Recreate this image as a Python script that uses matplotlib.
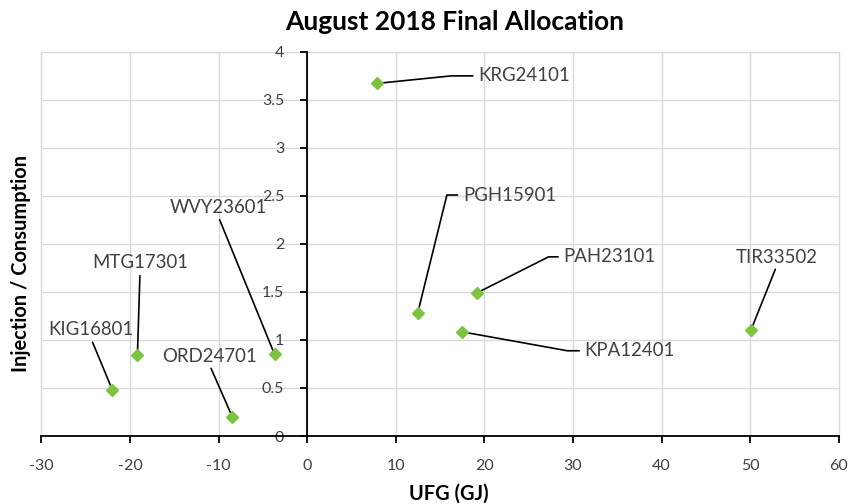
import numpy as np
import matplotlib
matplotlib.use('Agg')
import matplotlib.pyplot as plt

# Data
names = ['KRG24101', 'PGH15901', 'PAH23101', 'KPA12401', 'TIR33502',
         'WVY23601', 'MTG17301', 'KIG16801', 'ORD24701']
ufg = [7.93, 12.47, 19.17, 17.44, 50.08, -3.69, -19.17, -22.0, -8.46]
ratio = [3.67, 1.28, 1.49, 1.085, 1.10, 0.85, 0.84, 0.48, 0.20]

# Label placement: offset in pixels from the point, and elbow angle
# (None = straight leader from below the centred label)
label_offsets = [(101, 7.5), (45.4, 118), (86.6, 36), (123, -19), (26, 73.3),
                 (-56.5, 147), (2.6, 92.3), (-21.4, 60), (-22.9, 60.7)]
elbow_angles = [5.8, 76.1, 26.7, -10.2, None, None, None, None, None]

C_GREEN = '#7DC242'
C_GRID = '#D9D9D9'
C_TEXT = '#404040'

plt.rcParams['font.family'] = 'Lato'
plt.rcParams['axes.unicode_minus'] = False

fig = plt.figure(figsize=(8.52, 5.04), dpi=100)
ax = fig.add_axes([0.0487, 0.1349, 0.9357, 0.7626])

ax.plot(ufg, ratio, linestyle='none', marker='D', markersize=6,
        color=C_GREEN, zorder=4, clip_on=False)

ax.set_xlim(-30, 60)
ax.set_ylim(0, 4)
ax.set_xticks(np.arange(-30, 61, 10))
ax.set_yticks(np.arange(0, 4.01, 0.5))
ax.set_yticklabels(['0', '0.5', '1', '1.5', '2', '2.5', '3', '3.5', '4'])

ax.grid(True, color=C_GRID, linewidth=1.0)
ax.set_axisbelow(True)
for gl in ax.get_xgridlines() + ax.get_ygridlines():
    gl.set_clip_on(False)

ax.spines[['top', 'right']].set_visible(False)
ax.spines['left'].set_position(('data', 0))
ax.spines[['left', 'bottom']].set_color('black')
ax.spines[['left', 'bottom']].set_linewidth(1.3)
ax.tick_params(axis='x', length=5, width=1.3, pad=11.5, labelsize=11.5, labelcolor=C_TEXT)
ax.tick_params(axis='y', length=5, width=1.3, pad=11.5, labelsize=11.5, labelcolor=C_TEXT)

for name, x, y, (dx, dy), ang in zip(names, ufg, ratio, label_offsets, elbow_angles):
    if ang is not None:
        ax.annotate(name, xy=(x, y), xytext=(dx, dy), textcoords='offset pixels',
                    ha='left', va='center', fontsize=13.4, color=C_TEXT,
                    arrowprops=dict(arrowstyle='-', color='black', lw=1.2,
                                    connectionstyle=f'angle,angleA=0,angleB={ang},rad=0',
                                    relpos=(0, 0.5), patchA=None,
                                    shrinkA=4, shrinkB=0))
    else:
        ax.annotate(name, xy=(x, y), xytext=(dx, dy), textcoords='offset pixels',
                    ha='center', va='center', fontsize=13.4, color=C_TEXT,
                    arrowprops=dict(arrowstyle='-', color='black', lw=1.2,
                                    relpos=(0.5, 0), patchA=None,
                                    shrinkA=3, shrinkB=0))

fig.text(0.534, 0.956, 'August 2018 Final Allocation', fontsize=19, fontweight='bold',
         ha='center', va='center', color='black')
fig.text(0.527, 0.02, 'UFG (GJ)', fontsize=14.4, fontweight='bold',
         ha='center', va='center', color='black')
fig.text(0.025, 0.478, 'Injection / Consumption', fontsize=14.4, fontweight='bold',
         ha='center', va='center', rotation=90, color='black')

fig.savefig('out.png', dpi=100)
